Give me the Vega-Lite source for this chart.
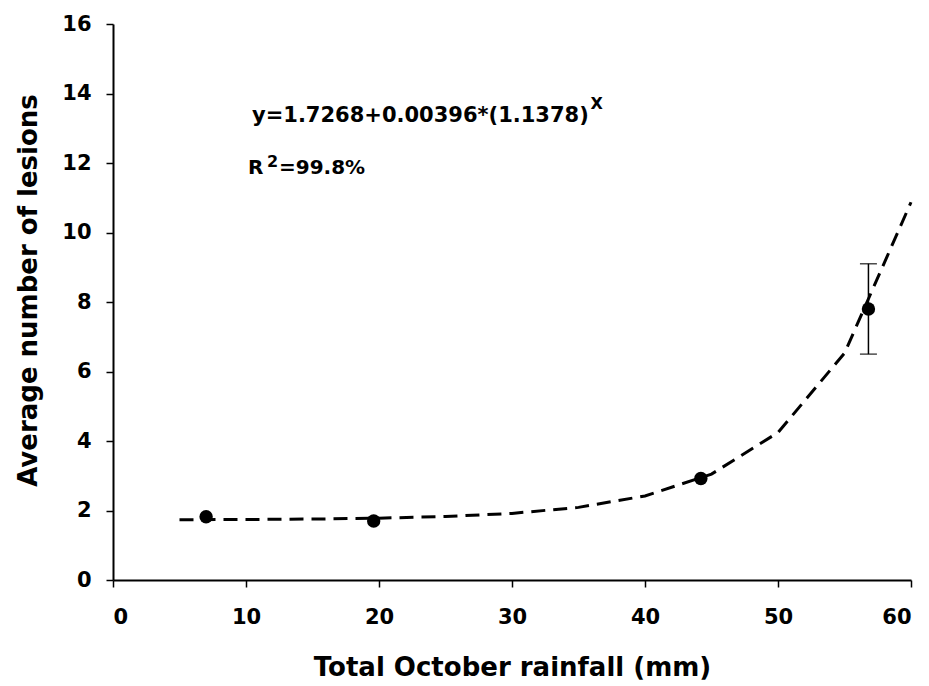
{
  "$schema": "https://vega.github.io/schema/vega-lite/v6.json",
  "width": 798,
  "height": 556,
  "autosize": "none",
  "padding": {"left": 113, "top": 24, "right": 18, "bottom": 106},
  "background": "white",
  "config": {
    "view": {"stroke": null},
    "font": "DejaVu Sans",
    "axis": {
      "grid": false,
      "domainColor": "black",
      "domainWidth": 2,
      "tickColor": "black",
      "tickWidth": 1.5,
      "tickSize": 7,
      "labelFont": "DejaVu Sans",
      "labelFontWeight": "bold",
      "labelFontSize": 21,
      "labelColor": "black",
      "titleFont": "DejaVu Sans",
      "titleFontWeight": "bold",
      "titleFontSize": 26,
      "titleColor": "black"
    }
  },
  "datasets": {
    "points": [
      {"rain": 7.0, "lesions": 1.82},
      {"rain": 19.6, "lesions": 1.7},
      {"rain": 44.2, "lesions": 2.92},
      {"rain": 56.8, "lesions": 7.8}
    ],
    "err": [
      {"rain": 56.8, "lo": 6.5, "hi": 9.1}
    ],
    "fit": [
      {"rain": 5, "lesions": 1.734},
      {"rain": 10, "lesions": 1.741},
      {"rain": 15, "lesions": 1.754},
      {"rain": 20, "lesions": 1.779},
      {"rain": 25, "lesions": 1.827},
      {"rain": 30, "lesions": 1.917},
      {"rain": 35, "lesions": 2.09},
      {"rain": 40, "lesions": 2.419},
      {"rain": 45, "lesions": 3.047},
      {"rain": 50, "lesions": 4.244},
      {"rain": 55, "lesions": 6.527},
      {"rain": 60, "lesions": 10.87}
    ],
    "eqText": [
      {"rain": 10.45, "lesions": 13.18, "txt": "y=1.7268+0.00396*(1.1378)"}
    ],
    "mainText": [
      {"rain": 10.15, "lesions": 11.68, "txt": "R"},
      {"rain": 12.48, "lesions": 11.68, "txt": "=99.8%"}
    ],
    "supText": [
      {"rain": 35.9, "lesions": 13.55, "txt": "X"},
      {"rain": 11.58, "lesions": 11.88, "txt": "2"}
    ]
  },
  "layer": [
    {
      "data": {"name": "fit"},
      "mark": {"type": "line", "color": "black", "strokeWidth": 3, "strokeDash": [14, 8]},
      "encoding": {
        "x": {
          "field": "rain", "type": "quantitative",
          "scale": {"domain": [0, 60], "nice": false},
          "axis": {"values": [0, 10, 20, 30, 40, 50, 60], "title": "Total October rainfall (mm)", "labelPadding": 19, "titleY": 87, "titleBaseline": "middle"}
        },
        "y": {
          "field": "lesions", "type": "quantitative",
          "scale": {"domain": [0, 16], "nice": false},
          "axis": {"values": [0, 2, 4, 6, 8, 10, 12, 14, 16], "title": "Average number of lesions", "labelPadding": 15, "titleX": -85, "titleY": 266, "titleBaseline": "middle", "titleAngle": -90, "titleAlign": "center"}
        }
      }
    },
    {
      "data": {"name": "err"},
      "mark": {"type": "rule", "color": "black", "strokeWidth": 1.5},
      "encoding": {
        "x": {"field": "rain", "type": "quantitative"},
        "y": {"field": "lo", "type": "quantitative"},
        "y2": {"field": "hi"}
      }
    },
    {
      "data": {"name": "err"},
      "mark": {"type": "tick", "orient": "horizontal", "color": "black", "size": 17, "thickness": 1.5},
      "encoding": {
        "x": {"field": "rain", "type": "quantitative"},
        "y": {"field": "lo", "type": "quantitative"}
      }
    },
    {
      "data": {"name": "err"},
      "mark": {"type": "tick", "orient": "horizontal", "color": "black", "size": 17, "thickness": 1.5},
      "encoding": {
        "x": {"field": "rain", "type": "quantitative"},
        "y": {"field": "hi", "type": "quantitative"}
      }
    },
    {
      "data": {"name": "points"},
      "mark": {"type": "circle", "color": "black", "opacity": 1, "size": 180},
      "encoding": {
        "x": {"field": "rain", "type": "quantitative"},
        "y": {"field": "lesions", "type": "quantitative"}
      }
    },
    {
      "data": {"name": "eqText"},
      "mark": {"type": "text", "align": "left", "baseline": "alphabetic", "font": "DejaVu Sans", "fontWeight": "bold", "fontSize": 21, "color": "black"},
      "encoding": {
        "x": {"field": "rain", "type": "quantitative"},
        "y": {"field": "lesions", "type": "quantitative"},
        "text": {"field": "txt"}
      }
    },
    {
      "data": {"name": "mainText"},
      "mark": {"type": "text", "align": "left", "baseline": "alphabetic", "font": "DejaVu Sans", "fontWeight": "bold", "fontSize": 20, "color": "black"},
      "encoding": {
        "x": {"field": "rain", "type": "quantitative"},
        "y": {"field": "lesions", "type": "quantitative"},
        "text": {"field": "txt"}
      }
    },
    {
      "data": {"name": "supText"},
      "mark": {"type": "text", "align": "left", "baseline": "alphabetic", "font": "DejaVu Sans", "fontWeight": "bold", "fontSize": 16, "color": "black"},
      "encoding": {
        "x": {"field": "rain", "type": "quantitative"},
        "y": {"field": "lesions", "type": "quantitative"},
        "text": {"field": "txt"}
      }
    }
  ]
}
